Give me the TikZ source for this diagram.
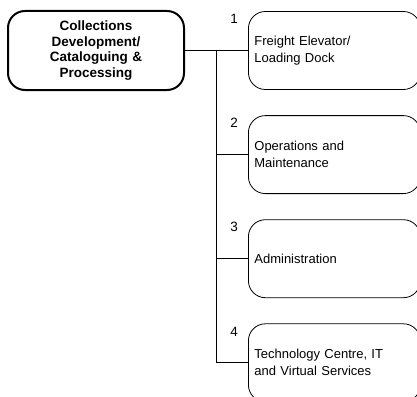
\documentclass[tikz,border=0pt]{standalone}
\usepackage{fontspec}
\setmainfont{Liberation Sans}
\usetikzlibrary{positioning,calc}
\tikzset{
  box/.style={rounded corners=17pt,draw=black,inner xsep=6pt,inner ysep=3pt,font=\fontsize{13}{17}\selectfont,minimum height=78pt},
  rootbox/.style={box,line width=2pt,text width=164pt,align=center,minimum height=79pt,font=\fontsize{13.5}{15.7}\selectfont\bfseries},
  unitbox/.style={box,line width=0.8pt,text width=160pt,align=left},
  numlbl/.style={font=\fontsize{13.5}{16}\selectfont,inner sep=0pt},
  ln/.style={draw=black,line width=0.8pt},
}
\begin{document}
\begin{tikzpicture}
    \useasboundingbox (0,0) rectangle (417pt,-396pt);
    \clip (0,0) rectangle (417pt,-396pt);
    \node[rootbox] (root) at (96pt,-50.5pt) {Collections\\Development/\\Cataloguing \&\\Processing};
    \node[unitbox,right=63pt of root] (u1) {Freight Elevator/\\Loading Dock};
    \node[unitbox,below=25.3pt of u1] (u2) {Operations and\\Maintenance};
    \node[unitbox,below=25.3pt of u2] (u3) {Administration};
    \node[unitbox,below=25.3pt of u3] (u4) {Technology Centre, IT\\and Virtual Services};
    % unit numbers
    \node[numlbl] (n1) at ($(u1.north west)+(-14pt,-8pt)$) {1};
    \node[numlbl] (n2) at ($(u2.north west)+(-14pt,-8pt)$) {2};
    \node[numlbl] (n3) at ($(u3.north west)+(-14pt,-8pt)$) {3};
    \node[numlbl] (n4) at ($(u4.north west)+(-14pt,-8pt)$) {4};
    % connectors
    \coordinate (tr) at ($(root.east)!0.5!(u1.west)$);
    \draw[ln](root.east)--(u1.west);\draw[ln](tr)|-(u4.west);
    \draw[ln](tr|-u2.west)--(u2.west);\draw[ln](tr|-u3.west)--(u3.west);
  \end{tikzpicture}
\end{document}
